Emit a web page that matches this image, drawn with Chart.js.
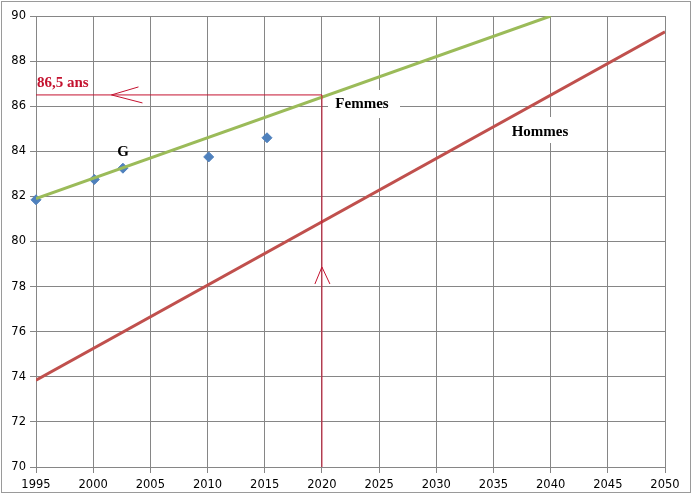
<!DOCTYPE html>
<html>
<head>
<meta charset="utf-8">
<script src="https://cdn.jsdelivr.net/npm/chart.js@4/dist/chart.umd.min.js"></script>
<style>
  body { margin: 0; background: #fff; }
</style>
</head>
<body>
<canvas id="chart" width="692" height="494"></canvas>
<script>
// observed values (G = mean point)
var obsYears  = [1995, 2000.1, 2002.6, 2010.1, 2015.2];
var obsValues = [81.85, 82.75, 83.25, 83.75, 84.6];

// fitted lines
var femmesYears  = [1995, 2040];
var femmesValues = [81.9, 90];
var hommesYears  = [1995, 2050];
var hommesValues = [73.85, 89.3];

// reading at 2020
var readYear  = 2020;
var readValue = 86.5;

var xTicks = [1995, 2000, 2005, 2010, 2015, 2020, 2025, 2030, 2035, 2040, 2045, 2050];
var yTicks = [70, 72, 74, 76, 78, 80, 82, 84, 86, 88, 90];

function pts(xs, ys) {
  return xs.map(function (x, i) { return { x: x, y: ys[i] }; });
}

var gridColor = '#868686';
var annColor = '#C4122F';

var extras = {
  id: 'extras',
  beforeDraw: function (chart) {
    var ctx = chart.ctx;
    ctx.save();
    ctx.strokeStyle = '#9a9a9a';
    ctx.lineWidth = 1;
    ctx.strokeRect(1.5, 1.5, 689, 491);
    ctx.restore();
  },
  beforeDatasetsDraw: function (chart) {
    var ctx = chart.ctx;
    ctx.save();
    ctx.fillStyle = '#fff';
    ctx.fillRect(328, 90, 72, 28);
    ctx.fillRect(506, 117, 68, 26);
    ctx.restore();
  },
  afterDatasetsDraw: function (chart) {
    var ctx = chart.ctx, xs = chart.scales.x, ys = chart.scales.y;
    ctx.save();
    // arrowheads
    ctx.strokeStyle = annColor;
    ctx.lineWidth = 1;
    var hx = xs.getPixelForValue(2001.6), hy = ys.getPixelForValue(readValue);
    ctx.beginPath();
    ctx.moveTo(hx + 27, hy - 8); ctx.lineTo(hx, hy); ctx.lineTo(hx + 31, hy + 8);
    ctx.stroke();
    var vx = xs.getPixelForValue(readYear), vy = ys.getPixelForValue(78.87);
    ctx.beginPath();
    ctx.moveTo(vx - 7, vy + 17); ctx.lineTo(vx, vy); ctx.lineTo(vx + 8, vy + 17);
    ctx.stroke();
    // labels
    ctx.font = 'bold 15px "Liberation Serif"';
    ctx.textBaseline = 'middle';
    ctx.textAlign = 'left';
    ctx.fillStyle = annColor;
    ctx.fillText('86,5 ans', 37, 83);
    ctx.fillStyle = '#000';
    ctx.textAlign = 'center';
    ctx.fillText('G', 123, 152);
    ctx.fillText('Femmes', 362, 104);
    ctx.fillText('Hommes', 540, 132);
    ctx.restore();
  }
};

new Chart(document.getElementById('chart'), {
  type: 'scatter',
  data: {
    datasets: [
      {
        data: pts([1995, readYear], [readValue, readValue]),
        showLine: true, borderColor: annColor, borderWidth: 1, pointRadius: 0
      },
      {
        data: pts([readYear, readYear], [70, readValue]),
        showLine: true, borderColor: annColor, borderWidth: 1, pointRadius: 0
      },
      {
        data: pts(femmesYears, femmesValues),
        showLine: true, borderColor: '#9BBB59', borderWidth: 3, pointRadius: 0
      },
      {
        data: pts(hommesYears, hommesValues),
        showLine: true, borderColor: '#C0504D', borderWidth: 3, pointRadius: 0
      },
      {
        data: pts(obsYears, obsValues),
        pointStyle: 'rectRot', pointRadius: 5,
        backgroundColor: '#4F81BD', borderColor: '#4F81BD', clip: false
      }
    ]
  },
  options: {
    responsive: false,
    animation: false,
    devicePixelRatio: 1,
    layout: { padding: { left: 0, top: 16, right: 27, bottom: 0 } },
    plugins: { legend: { display: false }, tooltip: { enabled: false } },
    scales: {
      x: {
        type: 'linear', min: 1995, max: 2050,
        afterBuildTicks: function (s) { s.ticks = xTicks.map(function (v) { return { value: v }; }); },
        afterFit: function (s) { s.height = 27; },
        grid: { color: gridColor, tickLength: 6 },
        border: { color: gridColor },
        ticks: {
          color: '#000', maxRotation: 0, padding: 5,
          font: { family: 'DejaVu Sans', size: 11.5 },
          callback: function (v) { return String(v); }
        }
      },
      y: {
        min: 70, max: 90,
        afterBuildTicks: function (s) { s.ticks = yTicks.map(function (v) { return { value: v }; }); },
        afterFit: function (s) { s.width = 36; },
        grid: { color: gridColor, tickLength: 6 },
        border: { color: gridColor },
        ticks: {
          color: '#000', padding: 4,
          font: { family: 'DejaVu Sans', size: 11.5 },
          callback: function (v) { return String(v); }
        }
      }
    }
  },
  plugins: [extras]
});
</script>
</body>
</html>
